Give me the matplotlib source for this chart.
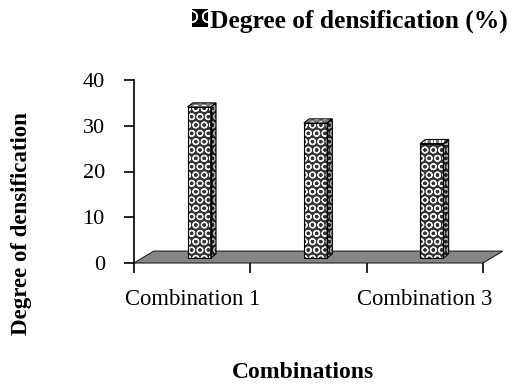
import matplotlib
matplotlib.use("Agg")
import matplotlib.pyplot as plt
from matplotlib.patches import Polygon, Rectangle, Patch
import numpy as np

categories = ["Combination 1", "Combination 2", "Combination 3"]
densification = [33.0, 29.5, 25.0]
y_ticks = [0, 10, 20, 30, 40]
series_name = "Degree of densification (%)"

plt.rcParams['font.family'] = ['Liberation Serif', 'DejaVu Serif']
plt.rcParams['hatch.linewidth'] = 0.9

fig = plt.figure(figsize=(5.2, 3.87), dpi=100)
ax = fig.add_axes([134 / 520, 1 - 263 / 387, 349 / 520, 183 / 387])
ax.set_xlim(0, 3)
ax.set_ylim(0, 40)

# grey 3-D floor of the chart
depth_dx, depth_dy = 0.17, 2.6
floor = Polygon([(0, 0), (3, 0), (3 + depth_dx, depth_dy), (depth_dx, depth_dy)],
                closed=True, facecolor='#858585', edgecolor='#222222', lw=0.8,
                clip_on=False, zorder=1)
ax.add_patch(floor)

# patterned 3-D columns
n = len(categories)
x = np.arange(n) + 0.5
bar_w = 0.2
shift_x, lift = 0.06, 1.1
side_dx, side_dy = 0.045, 0.9
bars = ax.bar(x + shift_x, densification, width=bar_w, bottom=lift,
              facecolor='#333333', edgecolor='#f2f2f2', hatch='OO', lw=0, zorder=3)
for b in bars:
    x0, y0 = b.get_x(), b.get_y()
    x1, y1 = x0 + b.get_width(), y0 + b.get_height()
    side = Polygon([(x1, y0), (x1 + side_dx, y0 + side_dy),
                    (x1 + side_dx, y1 + side_dy), (x1, y1)],
                   closed=True, facecolor='#1e1e1e', edgecolor='#aaaaaa',
                   hatch='OO', lw=0, zorder=3)
    top = Polygon([(x0, y1), (x1, y1), (x1 + side_dx, y1 + side_dy),
                   (x0 + side_dx, y1 + side_dy)],
                  closed=True, facecolor='#777777', edgecolor='white',
                  hatch='OO', lw=0, zorder=3)
    ax.add_patch(side)
    ax.add_patch(top)
    for poly in (side, top):
        outline = Polygon(poly.get_xy(), closed=True, fill=False,
                          edgecolor='black', lw=0.8, zorder=4)
        ax.add_patch(outline)
    ax.add_patch(Rectangle((x0, y0), x1 - x0, y1 - y0, fill=False,
                           edgecolor='black', lw=0.8, zorder=4))

# axes styling
for s in ('top', 'right', 'bottom'):
    ax.spines[s].set_visible(False)
ax.spines['left'].set_linewidth(1.2)
ax.set_yticks(y_ticks)
ax.set_yticklabels([str(v) for v in y_ticks], fontsize=16)
ax.tick_params(axis='y', direction='out', length=7, width=1.2, pad=14)

ax.set_xticks(np.arange(n + 1))
ax.set_xticklabels([])
ax.tick_params(axis='x', which='major', direction='out', length=7, width=1.2)
ax.set_xticks(x[::2], categories[::2], minor=True)
ax.tick_params(axis='x', which='minor', length=0, pad=19, labelsize=16.3)

fig.text(22 / 520, 1 - 224 / 387, "Degree of densification", rotation=90,
         ha='center', va='center', fontsize=16.5, fontweight='bold')
fig.text(303 / 520, 1 - 373 / 387, "Combinations", ha='center', va='center',
         fontsize=17, fontweight='bold')

handle = Patch(facecolor='black', edgecolor='white', hatch='O', lw=0)
fig.legend(handles=[handle], labels=[series_name], loc='center left',
           bbox_to_anchor=(192 / 520, 1 - 21 / 387), frameon=False,
           borderpad=0, borderaxespad=0, handlelength=0.62, handleheight=0.7,
           handletextpad=0.1, prop={'size': 18.4, 'weight': 'bold'})

fig.savefig("out.png", dpi=100)
